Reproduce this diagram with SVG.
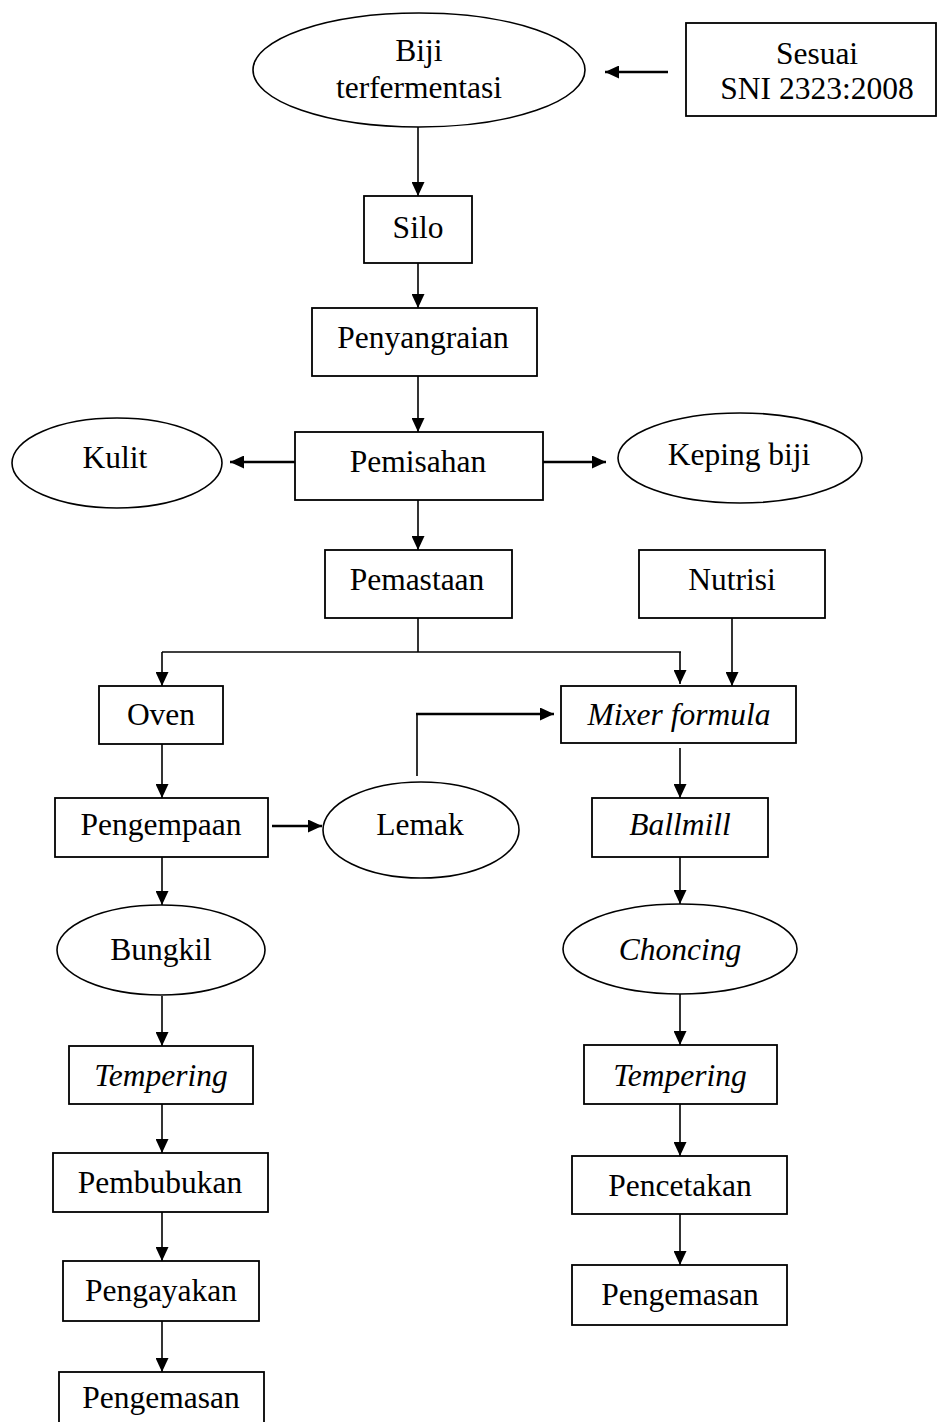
<svg xmlns="http://www.w3.org/2000/svg" width="937" height="1422" viewBox="0 0 937 1422">
<style>
  .box{fill:#fff;stroke:#000;stroke-width:1.8}
  .ell{fill:#fff;stroke:#000;stroke-width:1.6}
  text{font-family:"Liberation Serif","Times New Roman",serif;font-size:31.5px;fill:#000;text-anchor:middle}
  .it{font-style:italic}
  .ln{fill:none;stroke:#000;stroke-width:1.6}
  .lnh{fill:none;stroke:#000;stroke-width:2.6}
  .arr{marker-end:url(#ah)}
</style>
<defs>
  <marker id="ah" viewBox="0 0 14 13" refX="14" refY="6.5" markerWidth="14" markerHeight="13" markerUnits="userSpaceOnUse" orient="auto">
    <path d="M0,0 L14,6.5 L0,13 z" fill="#000"/>
  </marker>
</defs>
<rect width="937" height="1422" fill="#fff"/>

<g id="connectors">
  <line class="lnh arr" x1="668" y1="72" x2="605" y2="72"/>
  <line class="ln arr" x1="418" y1="127" x2="418" y2="196"/>
  <line class="ln arr" x1="418" y1="263" x2="418" y2="308"/>
  <line class="ln arr" x1="418" y1="376" x2="418" y2="432"/>
  <line class="lnh arr" x1="295" y1="462" x2="230" y2="462"/>
  <line class="lnh arr" x1="543" y1="462" x2="606" y2="462"/>
  <line class="ln arr" x1="418" y1="500" x2="418" y2="550"/>
  <polyline class="ln" points="418,618 418,652"/>
  <polyline class="ln" points="162,652 681,652"/>
  <line class="ln arr" x1="162" y1="652" x2="162" y2="686"/>
  <line class="ln arr" x1="680" y1="652" x2="680" y2="684"/>
  <line class="ln arr" x1="732" y1="618" x2="732" y2="686"/>
  <polyline class="ln" points="417,776 417,714 440,714"/>
  <line class="lnh arr" x1="416" y1="714" x2="554" y2="714"/>
  <line class="ln arr" x1="162" y1="744" x2="162" y2="798"/>
  <line class="lnh arr" x1="272" y1="826" x2="322" y2="826"/>
  <line class="ln arr" x1="680" y1="748" x2="680" y2="798"/>
  <line class="ln arr" x1="162" y1="857" x2="162" y2="905"/>
  <line class="ln arr" x1="680" y1="857" x2="680" y2="904"/>
  <line class="ln arr" x1="162" y1="996" x2="162" y2="1046"/>
  <line class="ln arr" x1="680" y1="994" x2="680" y2="1045"/>
  <line class="ln arr" x1="162" y1="1104" x2="162" y2="1153"/>
  <line class="ln arr" x1="680" y1="1104" x2="680" y2="1156"/>
  <line class="ln arr" x1="162" y1="1212" x2="162" y2="1261"/>
  <line class="ln arr" x1="680" y1="1214" x2="680" y2="1265"/>
  <line class="ln arr" x1="162" y1="1321" x2="162" y2="1372"/>
</g>

<g id="biji"><ellipse class="ell" cx="419" cy="70" rx="166" ry="57"/><text x="419" y="61">Biji</text><text x="419" y="98">terfermentasi</text></g>
<g id="sesuai"><rect class="box" x="686" y="23" width="250" height="93"/><text x="817" y="64">Sesuai</text><text x="817" y="99">SNI 2323:2008</text></g>
<g id="silo"><rect class="box" x="364" y="196" width="108" height="67"/><text x="418" y="238">Silo</text></g>
<g id="penyangraian"><rect class="box" x="312" y="308" width="225" height="68"/><text x="423" y="348">Penyangraian</text></g>
<g id="pemisahan"><rect class="box" x="295" y="432" width="248" height="68"/><text x="418" y="472">Pemisahan</text></g>
<g id="kulit"><ellipse class="ell" cx="117" cy="463" rx="105" ry="45"/><text x="115" y="468">Kulit</text></g>
<g id="keping"><ellipse class="ell" cx="740" cy="458" rx="122" ry="45"/><text x="739" y="465">Keping biji</text></g>
<g id="pemastaan"><rect class="box" x="325" y="550" width="187" height="68"/><text x="417" y="590">Pemastaan</text></g>
<g id="nutrisi"><rect class="box" x="639" y="550" width="186" height="68"/><text x="732" y="590">Nutrisi</text></g>
<g id="oven"><rect class="box" x="99" y="686" width="124" height="58"/><text x="161" y="725">Oven</text></g>
<g id="mixer"><rect class="box" x="561" y="686" width="235" height="57"/><text class="it" x="679" y="725">Mixer formula</text></g>
<g id="pengempaan"><rect class="box" x="55" y="798" width="213" height="59"/><text x="161" y="835">Pengempaan</text></g>
<g id="lemak"><ellipse class="ell" cx="421" cy="830" rx="98" ry="48"/><text x="420" y="835">Lemak</text></g>
<g id="ballmill"><rect class="box" x="592" y="798" width="176" height="59"/><text class="it" x="680" y="835">Ballmill</text></g>
<g id="bungkil"><ellipse class="ell" cx="161" cy="950" rx="104" ry="45"/><text x="161" y="960">Bungkil</text></g>
<g id="choncing"><ellipse class="ell" cx="680" cy="949" rx="117" ry="45"/><text class="it" x="680" y="960">Choncing</text></g>
<g id="tempering-l"><rect class="box" x="69" y="1046" width="184" height="58"/><text class="it" x="161" y="1086">Tempering</text></g>
<g id="tempering-r"><rect class="box" x="584" y="1045" width="193" height="59"/><text class="it" x="680" y="1086">Tempering</text></g>
<g id="pembubukan"><rect class="box" x="53" y="1153" width="215" height="59"/><text x="160" y="1193">Pembubukan</text></g>
<g id="pencetakan"><rect class="box" x="572" y="1156" width="215" height="58"/><text x="680" y="1196">Pencetakan</text></g>
<g id="pengayakan"><rect class="box" x="63" y="1261" width="196" height="60"/><text x="161" y="1301">Pengayakan</text></g>
<g id="pengemasan-r"><rect class="box" x="572" y="1265" width="215" height="60"/><text x="680" y="1305">Pengemasan</text></g>
<g id="pengemasan-l"><rect class="box" x="59" y="1372" width="205" height="60"/><text x="161" y="1408">Pengemasan</text></g>
</svg>
